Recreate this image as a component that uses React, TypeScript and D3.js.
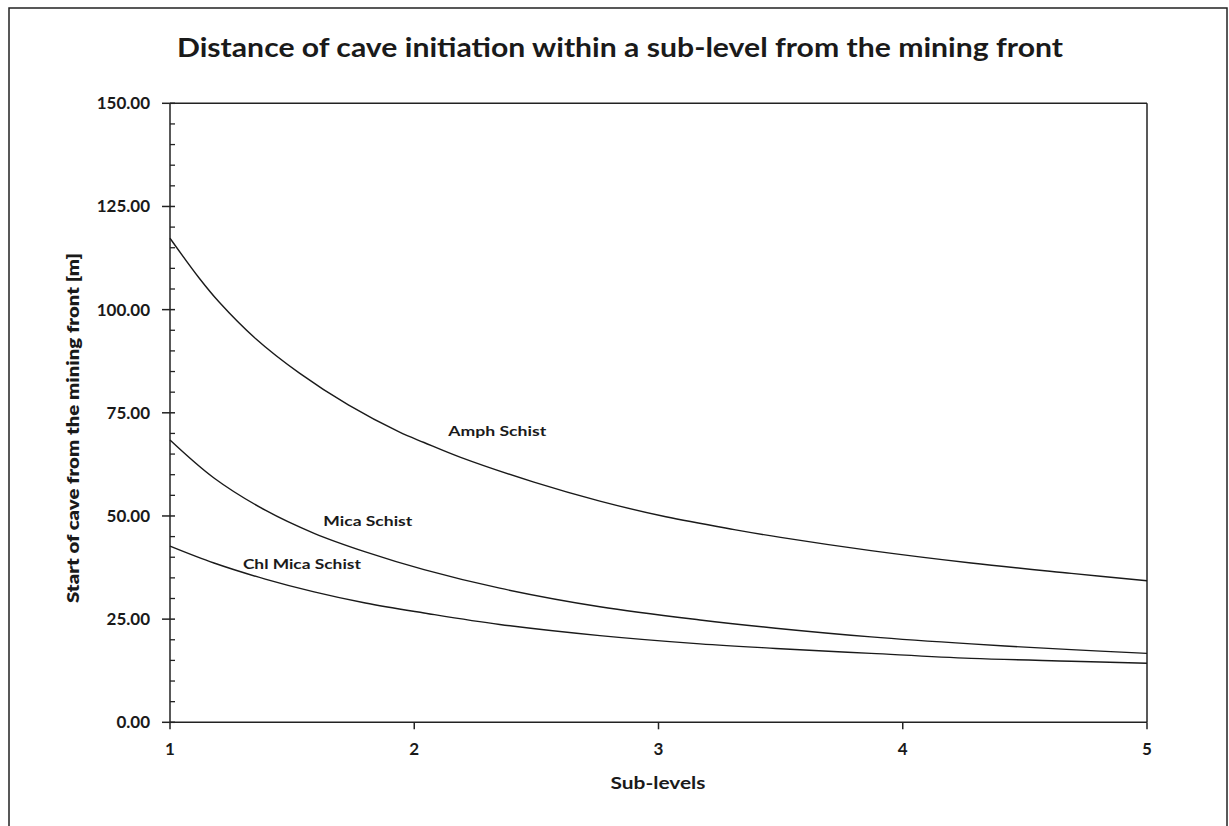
import React from "react";
import * as d3 from "d3";

const title = "Distance of cave initiation within a sub-level from the mining front";
const xLabel = "Sub-levels";
const yLabel = "Start of cave from the mining front [m]";

const xTicks = [1, 2, 3, 4, 5];
const yMajorTicks = [0, 25, 50, 75, 100, 125, 150];
const yMinorTicks = d3.range(0, 151, 5).filter((v) => v % 25 !== 0);

const amphX = [1, 1.12, 1.2, 1.35, 1.53, 1.73, 1.94, 2.04, 2.19, 2.49, 2.76, 3.03, 3.31, 3.5, 3.87, 4.28, 4.69, 5];
const amphY = [117.3, 107.6, 101.9, 93.0, 84.6, 76.9, 70.3, 67.8, 64.2, 58.2, 53.6, 49.8, 46.7, 44.8, 41.6, 38.6, 36.1, 34.3];

const micaX = [1, 1.18, 1.39, 1.59, 1.8, 2.04, 2.35, 2.76, 3.17, 3.48, 3.87, 4.28, 4.69, 5];
const micaY = [68.4, 59.2, 51.4, 45.8, 41.3, 37.0, 32.5, 28.0, 24.8, 22.8, 20.7, 19.0, 17.6, 16.7];

const chlX = [1, 1.18, 1.39, 1.59, 1.8, 2.04, 2.35, 2.76, 3.17, 3.48, 3.87, 4.28, 4.69, 5];
const chlY = [42.7, 38.6, 34.7, 31.6, 28.9, 26.5, 23.7, 21.0, 19.0, 17.9, 16.7, 15.5, 14.8, 14.3];

const seriesNames = ["Amph Schist", "Mica Schist", "Chl Mica Schist"];
const labelPos = [
  { x: 2.34, y: 70.5 },
  { x: 1.81, y: 48.7 },
  { x: 1.54, y: 38.3 },
];
const labelWidths = [98, 89, 118];

const W = 1229;
const H = 826;
const left = 170;
const right = 1147;
const top = 103.3;
const bottom = 722.3;

const font = "Lato, 'Open Sans', sans-serif";
const ink = "#1a1a1a";

export default function App() {
  const x = d3.scaleLinear().domain([1, 5]).range([left, right]);
  const y = d3.scaleLinear().domain([0, 150]).range([bottom, top]);
  const line = d3
    .line<[number, number]>()
    .x((d) => x(d[0]))
    .y((d) => y(d[1]))
    .curve(d3.curveCatmullRom.alpha(0.5));

  const series = [
    d3.zip(amphX, amphY) as [number, number][],
    d3.zip(micaX, micaY) as [number, number][],
    d3.zip(chlX, chlY) as [number, number][],
  ];

  return (
    <svg
      width={W}
      height={H}
      style={{ position: "absolute", left: 0, top: 0, background: "#fff" }}
    >
      <rect x={9} y={8} width={1218} height={840} fill="#fff" stroke="#222" strokeWidth={1.5} />
      <text
        x={620}
        y={57}
        textAnchor="middle"
        fontFamily={font}
        fontWeight={700}
        fontSize={26}
        fill={ink}
        textLength={886}
        lengthAdjust="spacingAndGlyphs"
      >
        {title}
      </text>

      {/* plot frame top & right */}
      <line x1={left} x2={right} y1={top} y2={top} stroke="#222" strokeWidth={1.5} />
      <line x1={right} x2={right} y1={top} y2={bottom} stroke="#222" strokeWidth={1.5} />

      {/* y axis */}
      <line x1={left} x2={left} y1={top} y2={bottom} stroke="#222" strokeWidth={1.5} />
      {yMajorTicks.map((t) => (
        <g key={"ym" + t}>
          <line x1={left - 8} x2={left + 5} y1={y(t)} y2={y(t)} stroke="#222" strokeWidth={1.5} />
          <text
            x={150}
            y={y(t)}
            dy="0.35em"
            textAnchor="end"
            fontFamily={font}
            fontWeight={700}
            fontSize={17}
            fill={ink}
          >
            {t.toFixed(2)}
          </text>
        </g>
      ))}
      {yMinorTicks.map((t) => (
        <line key={"yn" + t} x1={left} x2={left + 5} y1={y(t)} y2={y(t)} stroke="#222" strokeWidth={1.3} />
      ))}

      {/* x axis */}
      <line x1={left} x2={right} y1={bottom} y2={bottom} stroke="#222" strokeWidth={1.5} />
      {xTicks.map((t) => (
        <g key={"x" + t}>
          <line x1={x(t)} x2={x(t)} y1={bottom} y2={bottom + 7} stroke="#222" strokeWidth={1.5} />
          <text
            x={x(t)}
            y={755}
            textAnchor="middle"
            fontFamily={font}
            fontWeight={700}
            fontSize={17}
            fill={ink}
          >
            {t}
          </text>
        </g>
      ))}

      <text
        x={658}
        y={789}
        textAnchor="middle"
        fontFamily={font}
        fontWeight={700}
        fontSize={17}
        fill={ink}
        textLength={95}
        lengthAdjust="spacingAndGlyphs"
      >
        {xLabel}
      </text>
      <text
        transform={`translate(79, 428) rotate(-90)`}
        textAnchor="middle"
        fontFamily={font}
        fontWeight={800}
        fontSize={17}
        fill={ink}
        textLength={350}
        lengthAdjust="spacingAndGlyphs"
      >
        {yLabel}
      </text>

      {series.map((s, i) => (
        <path key={"s" + i} d={line(s) || ""} fill="none" stroke="#1a1a1a" strokeWidth={1.4} />
      ))}

      {seriesNames.map((n, i) => (
        <text
          key={"l" + i}
          x={x(labelPos[i].x)}
          y={y(labelPos[i].y)}
          dy="0.35em"
          textAnchor="middle"
          fontFamily={font}
          fontWeight={700}
          fontSize={14}
          fill={ink}
          textLength={labelWidths[i]}
          lengthAdjust="spacingAndGlyphs"
        >
          {n}
        </text>
      ))}
    </svg>
  );
}
